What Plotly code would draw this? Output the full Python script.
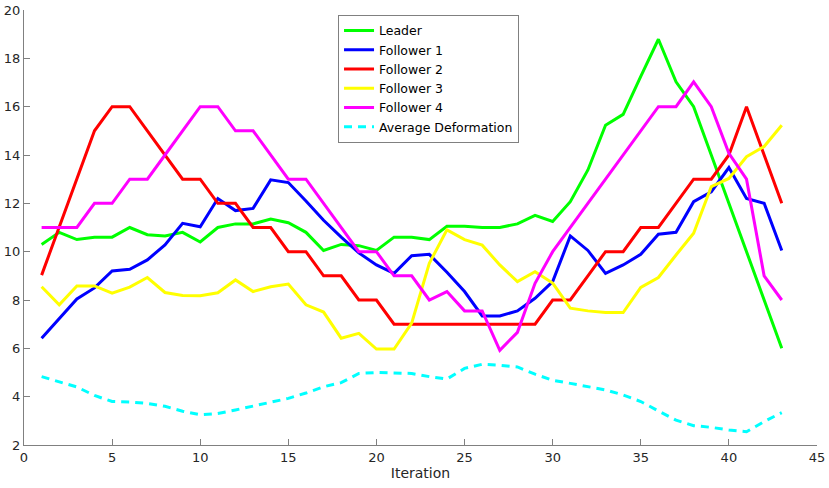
import plotly.graph_objects as go

iterations = list(range(1, 44))

leader = [10.3, 10.8, 10.5, 10.6, 10.6, 11.0, 10.7, 10.65, 10.8, 10.4,
          11.0, 11.15, 11.15, 11.35, 11.2, 10.8, 10.05, 10.3, 10.25, 10.05,
          10.6, 10.6, 10.5, 11.05, 11.05, 11.0, 11.0, 11.15, 11.5, 11.25,
          12.07, 13.38, 15.23, 15.68, 17.25, 18.79, 17.03, 16.0, 14.0, 12.0,
          10.05, 8.0, 6.0]

follower1 = [6.42, 7.25, 8.04, 8.5, 9.2, 9.27, 9.66, 10.28, 11.17, 11.03,
             12.2, 11.7, 11.79, 12.97, 12.86, 12.1, 11.3, 10.6, 9.95, 9.45,
             9.1, 9.83, 9.89, 9.15, 8.35, 7.34, 7.34, 7.55, 8.07, 8.76,
             10.65, 10.05, 9.1, 9.45, 9.89, 10.72, 10.8, 12.07, 12.48, 13.48,
             12.2, 12.0, 10.05]

follower2 = [9.03, 11.0, 13.0, 15.0, 16.0, 16.0, 15.0, 14.0, 13.0, 13.0,
             12.0, 12.0, 11.0, 11.0, 10.0, 10.0, 9.0, 9.0, 8.0, 8.0,
             7.0, 7.0, 7.0, 7.0, 7.0, 7.0, 7.0, 7.0, 7.0, 8.0,
             8.0, 9.0, 10.0, 10.0, 11.0, 11.0, 12.0, 13.0, 13.0, 14.0,
             16.0, 14.0, 12.0]

follower3 = [8.55, 7.8, 8.58, 8.58, 8.28, 8.53, 8.93, 8.31, 8.19, 8.18,
             8.3, 8.83, 8.35, 8.55, 8.66, 7.8, 7.5, 6.42, 6.62, 5.97,
             5.97, 7.04, 9.52, 10.9, 10.5, 10.27, 9.45, 8.76, 9.17, 8.7,
             7.66, 7.55, 7.48, 7.48, 8.52, 8.93, 9.86, 10.76, 12.69, 13.03,
             13.93, 14.35, 15.23]

follower4 = [11.0, 11.0, 11.0, 12.0, 12.0, 13.0, 13.0, 14.0, 15.0, 16.0,
             16.0, 15.0, 15.0, 14.0, 13.0, 13.0, 12.0, 11.0, 10.0, 10.0,
             9.0, 9.0, 8.0, 8.35, 7.55, 7.55, 5.92, 6.66, 8.69, 10.0,
             11.0, 12.0, 13.0, 14.0, 15.0, 16.0, 16.0, 17.03, 16.0, 14.07,
             13.0, 9.0, 8.0]

avg_deformation = [4.83, 4.6, 4.4, 4.05, 3.8, 3.78, 3.72, 3.6, 3.4, 3.25,
                   3.3, 3.45, 3.6, 3.75, 3.93, 4.15, 4.41, 4.58, 4.96, 5.0,
                   4.98, 4.96, 4.83, 4.73, 5.17, 5.34, 5.3, 5.23, 4.93, 4.68,
                   4.55, 4.42, 4.28, 4.07, 3.8, 3.41, 3.03, 2.8, 2.73, 2.62,
                   2.55, 2.97, 3.34]

series = [
    ("Leader", leader, "#00ff00", "solid"),
    ("Follower 1", follower1, "#0000ff", "solid"),
    ("Follower 2", follower2, "#ff0000", "solid"),
    ("Follower 3", follower3, "#ffff00", "solid"),
    ("Follower 4", follower4, "#ff00ff", "solid"),
    ("Average Deformation", avg_deformation, "#00ffff", "8px,6px"),
]

fig = go.Figure()
for name, vals, color, dash in series:
    fig.add_trace(go.Scatter(x=iterations, y=vals, mode="lines", name=name,
                             line=dict(color=color, width=3, dash=dash)))

axis_common = dict(showgrid=False, zeroline=False, showline=True,
                   linecolor="#808080", linewidth=1, ticks="inside",
                   ticklen=6, tickcolor="#808080", automargin=False,
                   tickfont=dict(family="DejaVu Sans", size=13, color="#262626"),
                   mirror=False)

fig.update_layout(
    width=829, height=488,
    margin=dict(l=24, r=12, t=10, b=43),
    paper_bgcolor="white", plot_bgcolor="white",
    font=dict(family="DejaVu Sans", size=13, color="#262626"),
    showlegend=True,
    legend=dict(x=0.396, y=0.989, xanchor="left", yanchor="top",
                bgcolor="white", bordercolor="#808080", borderwidth=1,
                font=dict(family="DejaVu Sans", size=12.5, color="#000000"),
                tracegroupgap=0, itemwidth=30),
    xaxis=dict(range=[0, 45], tickvals=list(range(0, 46, 5)),
               title=dict(text="Iteration", standoff=4,
                          font=dict(family="DejaVu Sans", size=14, color="#262626")),
               **axis_common),
    yaxis=dict(range=[2, 20], tickvals=list(range(2, 21, 2)), **axis_common),
)

fig.write_html("out.html",
               config={"displayModeBar": False},
               post_script="document.body.style.margin='0';document.body.style.overflow='hidden';")
